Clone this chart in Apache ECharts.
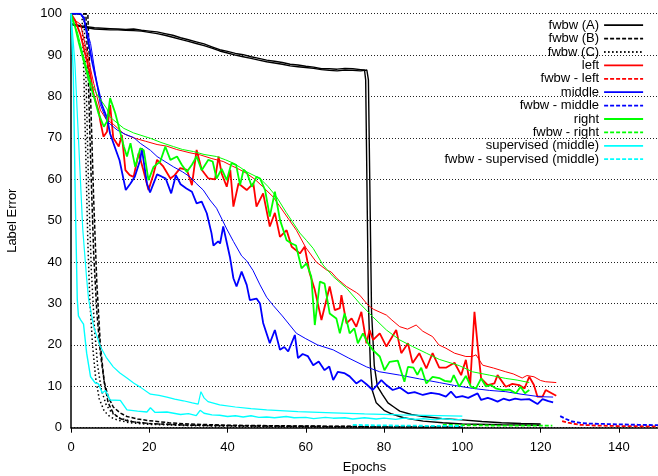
<!DOCTYPE html>
<html>
<head>
<meta charset="utf-8">
<title>Label Error</title>
<script src="https://cdn.jsdelivr.net/npm/echarts@6/dist/echarts.min.js"></script>
<style>
  html, body { margin: 0; padding: 0; background: #fff; }
  #main { width: 658px; height: 476px; }
</style>
</head>
<body>
<div id="main"></div>
<script type="text/javascript">
// [epoch, label error] pairs, two runs per legend entry

var fwbwA1 = [[0,97.6],[3,97],[6,96.6],[10,96.4],[12,96.3],[14,96.2],[16,96.3],[18,96],[20,95.8],[22,95.6],[24,95.2],[26,94.8],[28,94.2],[30,93.7],[32,93.2],[34,92.7],[36,92],[38,91.3],[40,90.9],[42,90.4],[44,90.1],[46,89.6],[48,89.2],[50,88.8],[52,88.5],[54,88.2],[56,87.8],[58,87.6],[60,87.3],[62,87.1],[64,86.7],[66,86.7],[68,86.6],[70,86.8],[72,86.7],[74,86.5],[75,86.4],[75.3,84],[76,30],[76.5,15],[77,9],[78,6],[80,4.2],[82,3.3],[85,2.4],[90,1.6],[95,1.2],[100,0.9],[110,0.7],[120,0.6]];
var fwbwA2 = [[0,97.4],[3,96.8],[6,96.3],[10,96.1],[12,96.1],[14,96],[16,95.9],[18,95.8],[20,95.5],[22,95.2],[24,94.8],[26,94.3],[28,93.8],[30,93.3],[32,92.8],[34,92.3],[36,91.7],[38,91],[40,90.5],[42,90],[44,89.6],[46,89.2],[48,88.8],[50,88.4],[52,88.1],[54,87.8],[56,87.4],[58,87.2],[60,87],[62,86.8],[64,86.5],[66,86.3],[68,86.2],[70,86.4],[72,86.3],[74,86.2],[75.6,86.4],[76,84],[76.8,28],[77.5,15],[78.3,10],[79.6,8],[81,6],[82.5,5],[84,4],[87,3.2],[90,2.7],[95,2.2],[100,1.9],[105,1.5],[110,1.2],[115,1.0],[120,0.9]];

var fwbwB1 = [[0,100],[3.8,100],[4.4,85],[5.1,62],[5.8,42],[6.6,28],[7.5,18],[8.5,11],[9.5,7.5],[10.8,5],[12.5,3.6],[14.3,2.7],[17,2.1],[20,1.7],[25,1.2],[30,0.9],[40,0.6],[60,0.4],[80,0.3],[100,0.2]];
var fwbwB2 = [[0,100],[4.3,100],[5,80],[5.8,55],[6.6,35],[7.5,20],[8.5,11],[9.5,6],[10.8,3.5],[12.5,2.2],[15,1.5],[20,1.0],[30,0.6],[50,0.4],[75,0.25],[100,0.15]];

var fwbwC1 = [[0,100],[2.8,100],[3.3,85],[3.8,65],[4.3,45],[4.8,31],[5.5,20],[6.3,12],[7.2,7],[8.5,4],[10,2.6],[12,1.8],[15,1.2],[20,0.8],[30,0.5],[50,0.3],[75,0.2],[100,0.1]];
var fwbwC2 = [[0,100],[3.3,100],[3.9,82],[4.5,58],[5.2,38],[6,24],[6.8,15],[7.8,9],[9,5.5],[10.5,3.5],[12.5,2.3],[16,1.4],[20,1],[30,0.6],[50,0.35],[75,0.2],[100,0.15]];

var leftRun1 = [[0,100],[1,98.5],[2.4,95],[3.7,90],[5,85],[5.8,80.4],[7.1,76.3],[7.5,74],[8.3,70.3],[9.2,71.5],[10,77.9],[10.8,70],[12.2,67.9],[13,70.7],[13.9,62.2],[15,61],[16,60.6],[17.3,66.3],[18.5,62.2],[19.8,57.4],[21,61],[22,64.7],[23.5,63.2],[25.4,60.2],[26.5,61],[27.9,62.7],[29.6,62.3],[30.9,58.6],[32.1,67.1],[33.4,62.3],[35.1,60.2],[36.8,60],[37.7,65.5],[38.5,61.4],[39.8,58.2],[40.7,62.3],[41.5,53.4],[42.8,59],[44.9,57.4],[46.6,59],[47.4,53.4],[49.1,56.6],[50.8,48.6],[52.1,51.9],[53.4,46.1],[55.1,47.7],[56.4,43.7],[58.5,42.1],[59.7,43.7],[61,37.3],[62.3,33.3],[64,26],[66.1,34.1],[67.4,28.4],[68.7,28.9],[69.1,32],[70.4,25.2],[71.7,26.4],[72.9,24.4],[74.2,28],[75.5,20.4],[76.3,23.6],[77.2,21.2],[78.9,22.8],[80.6,19.6],[83.1,23.6],[84.4,18],[86.1,20.4],[87.3,15.6],[89,18],[90.8,14.3],[92.4,18],[94.1,14.5],[95.8,14.5],[98,15.7],[99.7,12.7],[100.9,16.4],[102,10.3],[103.1,28],[103.9,20],[104.8,11.9],[106.5,10.3],[108.2,10.7],[109,12.7],[111.1,9.9],[112.8,10.6],[114.5,10.3],[115.9,9.5],[117.1,12.3],[118.3,10.3],[119.2,7.5],[120.5,7.5],[121.3,9.1],[124,7.7]];
var leftRun2 = [[0,99],[2.4,97.5],[4,91],[5.8,83.2],[7.5,76.7],[9,74.5],[10.8,73.3],[13.5,71],[16,70],[19,69.2],[22,68.4],[24.5,68],[27,67.2],[30.4,66.4],[33,65.9],[36,65],[38.9,64.3],[41,63.3],[43,62.4],[44.9,61.4],[47,60],[49,58.2],[51.6,55.8],[53.4,53.4],[55.9,50],[57.6,47.7],[60,43.5],[62.7,40],[65.3,38.1],[66.5,37.6],[68,36],[70.4,34.1],[73,32.6],[73.8,32],[75.9,29.6],[77.3,28.6],[80.6,27.2],[82,26],[84,24.4],[86,23.8],[88.2,24.8],[89.9,23.3],[92.4,22],[94,20],[95.8,19.2],[98,18],[100.9,17.2],[102.5,17.2],[103.5,17.6],[105.2,15.1],[108,14.4],[111.1,13.5],[113,13],[115.3,12],[116.5,12.6],[118.3,12.3],[120,11.4],[121.3,11.1],[124,10.9]];
var fwbwLeft = [[125.5,1.6],[127,1.2],[130,0.7],[135,0.5],[140,0.4],[150,0.3]];

var middleRun1 = [[0,100],[2.4,100],[3.3,99],[4.1,95],[5.4,88.4],[6.7,82.8],[7.9,78],[9.2,74.8],[10,71],[11.3,67.5],[11.8,67.1],[12.4,64.6],[14,57.4],[15.2,59],[16.3,60.6],[16.8,60.2],[17.7,64.7],[18.1,67.5],[19.4,59],[20.2,56.8],[21.1,59],[22,61.2],[23.3,60.6],[24.2,60.2],[25.6,56.6],[26.8,61],[28,58.8],[29.5,57.8],[30.9,57],[32.1,54.2],[33.4,54.6],[34.7,51.8],[35.9,47],[36.4,44],[37.6,45],[38.1,44.5],[38.9,48.6],[40.6,41.3],[41.5,36.1],[42.3,34.1],[43.6,37.7],[44.9,34.5],[45.7,30.8],[47.4,31.2],[48.3,30],[49.1,25.3],[50.8,20.4],[52.1,23.6],[53.4,18.8],[54.5,19.5],[55.5,18.4],[57.2,22.4],[58,16.8],[59.2,17.8],[60.5,17.3],[61.9,15.1],[63.3,16],[64.8,13.9],[66,14.8],[67,11.5],[68.2,13.5],[69.8,13.2],[71.2,12.4],[72.9,10.7],[74.2,11.5],[75.5,10.5],[77.1,9.1],[79.3,11.5],[80.6,10.3],[82.2,9.1],[84,9.7],[86.1,8.3],[87.8,8.6],[89.9,7.9],[92,8.4],[94.1,8.1],[95.8,7.5],[97.1,8.7],[98.4,7.3],[100,7.6],[101.5,7.2],[103.9,8.3],[104.8,6.7],[106.5,7.2],[107.5,6.9],[109,6.3],[110.5,7],[112,6.6],[113.5,7],[115,6.8],[117.1,6.9],[119.2,5.7],[120.5,6.9],[122,6.4],[123.2,6.1]];
var middleRun2 = [[0,100],[2.4,100],[3.3,98.5],[5,92.8],[6.7,82.6],[7.5,78],[9.2,74],[11.8,71.9],[14,70.8],[16,70.1],[17.7,68.7],[20.3,67],[22,65.5],[24,64.3],[26.2,63],[28.5,61.8],[30.4,60.6],[32,59],[33.8,57.4],[35.5,55],[37.2,53],[39.8,48],[41.5,45],[43.6,41.5],[44.9,40.3],[46.5,38],[48.3,34.5],[50,31.5],[51.7,29.5],[54,27],[57.6,22.8],[60,21.5],[63,20],[67,18.8],[71,16.8],[75.5,14.7],[78.9,13.5],[84,12.7],[89,11.8],[94.1,10.9],[98,10.2],[102.6,9.5],[107,9],[111.1,8.7],[115,8.1],[119.6,7.5],[123.2,7.4]];
var fwbwMiddle = [[125,2.8],[126.5,2.1],[128,1.5],[130,1.2],[132,1.0],[136,0.9],[140,0.8],[145,0.7],[150,0.6]];

var rightRun1 = [[0,100],[1,97],[2,93],[3,89.5],[4,86],[5,82.5],[6,79.5],[7,76],[8.4,72.7],[9.2,74],[10,79.6],[11.3,76],[12.4,72],[13.5,67.9],[14.3,65.5],[15.2,68.7],[16.4,63],[17.7,67.5],[18.6,67],[19.8,59.8],[21.1,63],[22.8,64.3],[24.1,67.9],[25.4,64.7],[27.1,65.5],[28.3,63.5],[29.6,61.8],[30.9,63.5],[32.1,65.5],[33.4,62.2],[35.1,64.7],[36.2,64.3],[37.2,60.2],[38.5,62.5],[39.8,59.8],[41,63.9],[42.2,63.5],[43.2,58.6],[44.1,62.3],[45,61.5],[46.2,58.2],[47.4,60.6],[48.3,60.2],[49.6,57.4],[50.8,51],[52.1,57],[53.4,50.2],[55.1,45.3],[56.4,44.5],[57.5,44],[58.9,38.5],[60.2,39.7],[61.4,36.5],[62.3,24.8],[63.6,35.3],[64.8,34.8],[66.1,27.6],[67.8,26.4],[68.7,22.8],[69.9,27.6],[70.4,26],[71.2,22.8],[72.4,24],[73.3,20.4],[74.6,22.8],[75.9,20.4],[77.1,18.8],[78.9,17.2],[80.1,13.9],[81.4,15.9],[83.5,16.2],[85.2,11.1],[86.1,14.7],[87.5,14.5],[88.5,12.8],[89.5,14.5],[90.8,10.7],[92.4,12.3],[94.1,12],[95.5,11.3],[97.1,11.1],[97.8,12.7],[99.2,9.9],[100.9,12.5],[102.2,9.9],[103.5,9.5],[104.8,11.9],[106,10],[107.3,10.3],[108.5,9.5],[110.3,9.1],[112,9.2],[113.7,8.3],[114.9,9.9],[116,8.3],[117.1,9.1]];
var rightRun2 = [[0,99],[1.6,95.7],[3.3,89.2],[5,83.6],[6.7,80.4],[9.2,77],[10,75],[11.8,73.6],[13.5,72.3],[16,71.2],[20.3,69.9],[23,68.9],[26.2,67.9],[28.5,67.2],[31.3,66.7],[34,66],[37.2,65.5],[39.5,64.7],[41.5,63.9],[43.2,62.9],[44.9,61.8],[48.3,60.2],[50.3,58.3],[52.5,55.8],[55,52],[58.5,47],[60.2,45.2],[61.9,43.3],[64.4,39.3],[67,36.5],[70.4,33.7],[73.8,30],[77.1,26.8],[80.6,23.6],[84,21.2],[87.3,19.6],[90.8,18],[94.1,16.5],[99.2,15],[102.6,13.5],[106.9,12.7],[111.1,11.9],[114,11.5],[117.1,10.9]];
var fwbwRight = [[95,0.7],[100,0.6],[110,0.5],[123,0.5]];

var supRun1 = [[0,100],[0.6,85],[1.1,55],[1.6,31],[1.9,27],[2.5,26],[3.2,25],[4,18],[5,12.3],[6.2,10.8],[7,10.6],[8,8.4],[8.8,9],[10,6.7],[12.6,6.6],[14.3,4.3],[17,4],[19.4,3.8],[20.3,4.8],[21.5,3.7],[24.5,3.8],[28,3.2],[30,3.4],[32,2.9],[33,4.2],[34,3.5],[36,3.1],[38,3],[40,2.7],[42,2.9],[44,2.6],[46,2.9],[48,2.5],[50,2.6],[52,2.4],[55,2.7],[57,2.4],[60,2.5],[62,2.2],[65,2.5],[67,2.3],[70,2.4],[72,2.1],[75,2.4],[78,2.1],[80,2.3],[83,2.0],[85,2.3],[88,2.0],[90,2.2],[93,1.9],[95,2.2],[98,1.9],[100,2.0]];
var supRun2 = [[0,100],[1,88],[2,68],[3,48],[4,36],[4.5,31],[5.8,24.4],[7.5,19.6],[9,17],[10.8,14.7],[12.5,13.2],[14.3,12],[16,10.8],[17.7,9.8],[20.3,8.1],[22.5,7.8],[24.5,7.4],[26.5,6.9],[28.7,6.5],[31,6],[32.5,5.7],[33.2,8.7],[34,7.2],[35,6.3],[38,5.5],[42,5],[46,4.6],[50,4.3],[58,3.9],[67,3.6],[75,3.35],[84,3.1],[94,2.9],[100,2.8]];
var fwbwSup = [[72,0.7],[76,0.6],[85,0.5],[100,0.4]];

var legendNames = ['fwbw (A)', 'fwbw (B)', 'fwbw (C)', 'left', 'fwbw - left', 'middle', 'fwbw - middle',
  'right', 'fwbw - right', 'supervised (middle)', 'fwbw - supervised (middle)'];

var DASH = [4, 2], DOT = [1.5, 2.5];

function line(name, data, color, width, type) {
  return {
    name: name,
    type: 'line',
    data: data,
    symbol: 'none',
    showSymbol: false,
    animation: false,
    emphasis: { disabled: true },
    lineStyle: { color: color, width: width, type: type || 'solid' },
    itemStyle: { color: color }
  };
}

var myChart = echarts.init(document.getElementById('main'));

myChart.setOption({
  backgroundColor: '#fff',
  textStyle: { fontFamily: 'Liberation Sans, Arial, sans-serif' },
  grid: { left: 71, right: 0, top: 13.7, bottom: 48.3, outerBoundsMode: 'none' },
  legend: {
    data: legendNames,
    orient: 'vertical',
    align: 'right',
    right: 14,
    top: 18.5,
    itemWidth: 39,
    itemHeight: 13.4,
    itemGap: 0,
    padding: 0,
    itemStyle: { opacity: 0 },
    lineStyle: { width: 1.8 },
    textStyle: { fontSize: 13, color: '#000', lineHeight: 13.4 },
    selectedMode: false
  },
  xAxis: {
    type: 'value',
    min: 0,
    max: 150,
    interval: 20,
    name: 'Epochs',
    nameLocation: 'middle',
    nameGap: 33,
    nameTextStyle: { fontSize: 13, color: '#000' },
    axisLine: { lineStyle: { color: '#000', width: 1.5 } },
    axisTick: { length: 5, lineStyle: { color: '#000' } },
    axisLabel: { fontSize: 13, color: '#000', margin: 13, showMaxLabel: false },
    splitLine: { show: false }
  },
  yAxis: {
    type: 'value',
    min: 0,
    max: 100,
    interval: 10,
    name: 'Label Error',
    nameLocation: 'middle',
    nameGap: 52,
    nameTextStyle: { fontSize: 13, color: '#000' },
    axisLine: { show: true, lineStyle: { color: '#000', width: 1.5 } },
    axisTick: { show: false },
    axisLabel: { fontSize: 13, color: '#000', margin: 9 },
    splitLine: { show: true, lineStyle: { color: '#222', width: 1, type: [1, 2] } }
  },
  series: [
    line('fwbw (A)', fwbwA1, '#000', 1.4),
    line('fwbw (A)', fwbwA2, '#000', 1.4),
    line('fwbw (B)', fwbwB1, '#000', 1.5, DASH),
    line('fwbw (B)', fwbwB2, '#000', 1.5, DASH),
    line('fwbw (C)', fwbwC1, '#000', 1.5, DOT),
    line('fwbw (C)', fwbwC2, '#000', 1.5, DOT),
    line('left', leftRun1, '#ff0000', 1.8),
    line('left', leftRun2, '#ff0000', 1),
    line('fwbw - left', fwbwLeft, '#ff0000', 1.8, DASH),
    line('middle', middleRun1, '#0000ff', 1.8),
    line('middle', middleRun2, '#0000ff', 1),
    line('fwbw - middle', fwbwMiddle, '#0000ff', 1.8, DASH),
    line('right', rightRun1, '#00ff00', 1.8),
    line('right', rightRun2, '#00ff00', 1),
    line('fwbw - right', fwbwRight, '#00ff00', 1.8, DASH),
    line('supervised (middle)', supRun1, '#00ffff', 1.4),
    line('supervised (middle)', supRun2, '#00ffff', 1.2),
    line('fwbw - supervised (middle)', fwbwSup, '#00ffff', 1.8, DASH)
  ]
});

window.addEventListener('resize', function () {
  myChart.resize();
});
</script>
</body>
</html>
